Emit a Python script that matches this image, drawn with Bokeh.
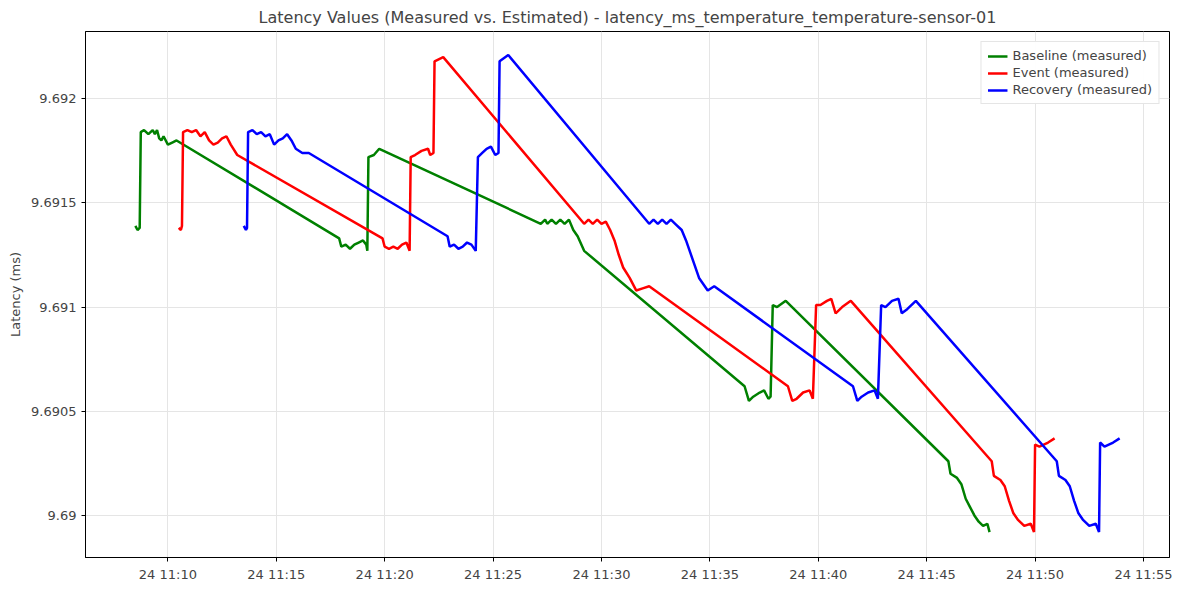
import pandas as pd
from bokeh.plotting import figure
from bokeh.models import DatetimeTickFormatter, FixedTicker, Legend, LegendItem
from bokeh.embed import file_html
from bokeh.resources import INLINE

# minutes after 2024-01-24 11:00 and measured latency (ms)
baseline_min = [8.5, 8.6, 8.7, 8.75, 8.9, 9.1, 9.3, 9.4, 9.5, 9.6, 9.7, 9.8, 10.0, 10.2, 10.4,
                17.9, 18.0, 18.2, 18.4, 18.6, 18.8, 19.0, 19.15, 19.2, 19.25, 19.5, 19.75,
                27.2, 27.4, 27.5, 27.7, 27.9, 28.1, 28.3, 28.5, 28.7, 28.9, 29.2,
                36.6, 36.8, 37.0, 37.3, 37.5, 37.7, 37.8, 37.9, 38.1, 38.5,
                46.0, 46.1, 46.4, 46.6, 46.8, 47.0, 47.2, 47.4, 47.6, 47.8, 47.9]
baseline_val = [9.69139, 9.69137, 9.69138, 9.69184, 9.69185, 9.69183, 9.69185, 9.69183, 9.69185, 9.69181, 9.69180, 9.69182, 9.69178, 9.69179, 9.69180,
                9.69133, 9.69129, 9.69130, 9.69128, 9.69130, 9.69131, 9.69132, 9.69130, 9.69127, 9.69172, 9.69173, 9.69176,
                9.69140, 9.69142, 9.69140, 9.69142, 9.69140, 9.69142, 9.69140, 9.69142, 9.69137, 9.69134, 9.69127,
                9.69062, 9.69055, 9.69057, 9.69059, 9.69060, 9.69056, 9.69057, 9.69101, 9.69100, 9.69103,
                9.69026, 9.69020, 9.69018, 9.69015, 9.69008, 9.69004, 9.69000, 9.68997, 9.68995, 9.68996, 9.68992]

event_min = [10.5, 10.6, 10.65, 10.7, 10.9, 11.1, 11.3, 11.5, 11.7, 11.9, 12.1, 12.3, 12.5, 12.7, 12.9, 13.2,
             19.9, 20.0, 20.2, 20.4, 20.6, 20.8, 21.0, 21.15, 21.2, 21.4, 21.7, 22.0, 22.1, 22.25, 22.3, 22.7,
             29.2, 29.4, 29.6, 29.8, 30.0, 30.2, 30.4, 30.6, 30.8, 31.0, 31.3, 31.6, 31.9, 32.2,
             38.6, 38.8, 39.0, 39.3, 39.6, 39.75, 39.9, 40.1, 40.4, 40.6, 40.8, 41.1, 41.5,
             48.0, 48.1, 48.4, 48.6, 48.8, 49.0, 49.2, 49.5, 49.8, 49.95, 50.0, 50.2, 50.4, 50.6, 50.9]
event_val = [9.69138, 9.69137, 9.69139, 9.69184, 9.69185, 9.69184, 9.69185, 9.69182, 9.69184, 9.69180, 9.69178, 9.69179, 9.69181, 9.69182, 9.69178, 9.69173,
             9.69133, 9.69129, 9.69128, 9.69129, 9.69128, 9.69130, 9.69131, 9.69127, 9.69172, 9.69173, 9.69175, 9.69176, 9.69173, 9.69174, 9.69218, 9.69220,
             9.69140, 9.69142, 9.69140, 9.69142, 9.69140, 9.69141, 9.69137, 9.69132, 9.69125, 9.69119, 9.69114, 9.69108, 9.69109, 9.69110,
             9.69062, 9.69055, 9.69056, 9.69059, 9.69060, 9.69056, 9.69101, 9.69101, 9.69103, 9.69104, 9.69097, 9.69100, 9.69103,
             9.69026, 9.69019, 9.69017, 9.69014, 9.69007, 9.69001, 9.68998, 9.68995, 9.68996, 9.68992, 9.69034, 9.69033, 9.69034, 9.69035, 9.69037]

recovery_min = [13.5, 13.6, 13.65, 13.7, 13.9, 14.1, 14.3, 14.5, 14.7, 14.9, 15.1, 15.3, 15.5, 15.7, 15.9, 16.2, 16.5,
                22.9, 23.0, 23.2, 23.4, 23.6, 23.8, 24.0, 24.2, 24.3, 24.5, 24.7, 24.9, 25.1, 25.25, 25.3, 25.7,
                32.2, 32.4, 32.6, 32.8, 33.0, 33.2, 33.4, 33.7, 33.9, 34.1, 34.3, 34.5, 34.9, 35.2,
                41.6, 41.8, 42.0, 42.3, 42.6, 42.75, 42.9, 43.1, 43.4, 43.7, 43.85, 44.1, 44.5,
                51.0, 51.1, 51.4, 51.6, 51.8, 52.0, 52.2, 52.5, 52.8, 52.95, 53.0, 53.2, 53.4, 53.6, 53.9]
recovery_val = [9.69139, 9.69137, 9.69138, 9.69184, 9.69185, 9.69183, 9.69184, 9.69182, 9.69183, 9.69178, 9.69180, 9.69181, 9.69183, 9.69180, 9.69176, 9.69174, 9.69174,
                9.69134, 9.69129, 9.69130, 9.69128, 9.69129, 9.69131, 9.69130, 9.69127, 9.69172, 9.69174, 9.69176, 9.69177, 9.69173, 9.69174, 9.69218, 9.69221,
                9.69140, 9.69142, 9.69140, 9.69142, 9.69140, 9.69142, 9.69140, 9.69137, 9.69132, 9.69126, 9.69120, 9.69114, 9.69108, 9.69110,
                9.69062, 9.69055, 9.69057, 9.69059, 9.69060, 9.69056, 9.69101, 9.69100, 9.69103, 9.69104, 9.69097, 9.69099, 9.69103,
                9.69026, 9.69019, 9.69017, 9.69014, 9.69007, 9.69001, 9.68998, 9.68995, 9.68996, 9.68992, 9.69035, 9.69033, 9.69034, 9.69035, 9.69037]

tick_min = [10, 15, 20, 25, 30, 35, 40, 45, 50, 55]
y_ticks = [9.6900, 9.6905, 9.6910, 9.6915, 9.6920]

base = pd.Timestamp("2024-01-24 11:00:00")
def to_ms(mins):
    return [(base + pd.Timedelta(minutes=m)).value / 1e6 for m in mins]

p = figure(width=1184, height=584, x_axis_type="datetime",
           x_range=(to_ms([6.2])[0], to_ms([56.2])[0]), y_range=(9.689798, 9.692323),
           title="Latency Values (Measured vs. Estimated) - latency_ms_temperature_temperature-sensor-01",
           output_backend="svg", toolbar_location=None, min_border_left=85, min_border_right=15)
p.title.align = "center"
p.title.text_font_size = "16px"
p.title.text_font_style = "normal"
p.title.text_font = "DejaVu Sans"

items = []
for name, xs, ys, col in [("Baseline (measured)", baseline_min, baseline_val, "green"),
                          ("Event (measured)", event_min, event_val, "red"),
                          ("Recovery (measured)", recovery_min, recovery_val, "blue")]:
    r = p.line(to_ms(xs), ys, line_color=col, line_width=2.5)
    items.append(LegendItem(label=name, renderers=[r]))

legend = Legend(items=items, location="top_right", label_text_font_size="13px",
                label_text_font="DejaVu Sans", border_line_color="#cccccc",
                glyph_height=14, spacing=2, padding=6, label_height=14)
p.add_layout(legend)

p.xaxis.ticker = FixedTicker(ticks=to_ms(tick_min))
p.xaxis.formatter = DatetimeTickFormatter(minutes="%d %H:%M", hours="%d %H:%M", minsec="%d %H:%M")
p.yaxis.ticker = FixedTicker(ticks=y_ticks)
p.yaxis.axis_label = "Latency (ms)"
p.yaxis.axis_label_text_font_style = "normal"
p.yaxis.axis_label_text_font_size = "13px"
for ax in (p.xaxis, p.yaxis):
    ax.major_label_text_font_size = "13px"
    ax.major_label_text_font = "DejaVu Sans"
    ax.axis_label_text_font = "DejaVu Sans"
    ax.minor_tick_line_color = None
    ax.major_tick_in = 0
    ax.major_tick_out = 4
    ax.axis_line_color = "black"
p.grid.grid_line_color = "#e5e5e5"
p.outline_line_color = "black"

open("out.html", "w").write(file_html(p, INLINE))
